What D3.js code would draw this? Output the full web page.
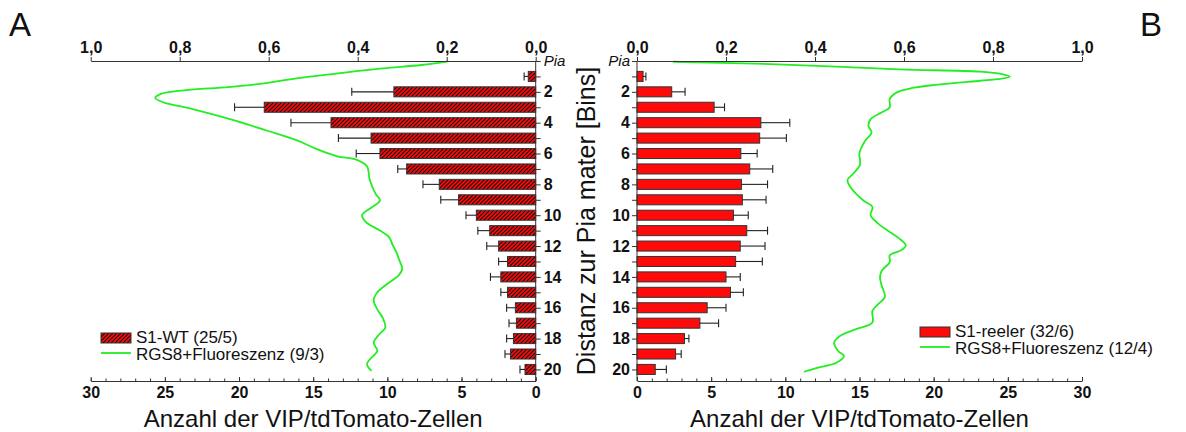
<!DOCTYPE html>
<html>
<head>
<meta charset="utf-8">
<script src="https://cdn.jsdelivr.net/npm/d3@7"></script>
<style>
  body { margin: 0; background: #fff; }
  svg { font-family: "Liberation Sans", Arial, sans-serif; }
</style>
</head>
<body>
<script>
// bins below the pia (1..20)
const bins = [1, 2, 3, 4, 5, 6, 7, 8, 9, 10, 11, 12, 13, 14, 15, 16, 17, 18, 19, 20];

// S1-WT (25/5): cell counts per bin and error
const wtMean = [0.5, 9.56, 18.3, 13.8, 11.1, 10.5, 8.7, 6.5, 5.2, 4.0, 3.1, 2.5, 1.9, 2.35, 1.9, 1.37, 1.3, 1.5, 1.7, 0.72];
const wtErr  = [0.28, 2.84, 2.0, 2.7, 2.2, 1.6, 0.6, 1.1, 1.2, 0.7, 0.8, 0.8, 0.6, 0.7, 0.45, 0.59, 0.5, 0.46, 0.37, 0.34];

// S1-reeler (32/6)
const rlMean = [0.41, 2.34, 5.2, 8.35, 8.27, 7.0, 7.6, 7.04, 7.1, 6.5, 7.4, 6.96, 6.65, 6.0, 6.3, 4.73, 4.24, 3.2, 2.6, 1.23];
const rlErr  = [0.19, 0.9, 0.7, 1.95, 1.8, 1.1, 1.55, 1.76, 1.6, 1.0, 1.4, 1.67, 1.8, 0.96, 0.87, 1.27, 1.26, 0.3, 0.38, 0.75];

// RGS8+ fluorescence profile, WT (9/3): depth in bins, relative intensity
const wtGreenDepth = [0.02, 0.26, 0.48, 0.75, 1.14, 1.45, 1.69, 1.9, 2.13, 2.4, 2.7, 3.1, 3.77, 4.54, 5.2, 5.75, 6.18, 6.4, 6.84, 7.7, 8.6, 9.03, 9.5, 10.0, 10.43, 10.98, 11.4, 11.96, 12.4, 12.8, 13.5, 13.9, 14.46, 15.0, 15.54, 16.1, 16.7, 17.3, 17.7, 18.26, 18.8, 19.35, 19.67, 20.1];
const wtGreenFrac  = [0.196, 0.257, 0.343, 0.429, 0.541, 0.61, 0.69, 0.79, 0.842, 0.855, 0.835, 0.773, 0.687, 0.601, 0.532, 0.489, 0.446, 0.403, 0.379, 0.373, 0.36, 0.35, 0.369, 0.39, 0.382, 0.351, 0.33, 0.321, 0.313, 0.308, 0.3, 0.308, 0.334, 0.356, 0.364, 0.356, 0.343, 0.338, 0.351, 0.364, 0.356, 0.373, 0.379, 0.369];

// RGS8+ fluorescence profile, reeler (12/4)
const rlGreenDepth = [0.05, 0.2, 0.54, 0.69, 0.85, 1.02, 1.18, 1.28, 1.56, 1.75, 2.02, 2.46, 3.0, 3.33, 3.77, 4.2, 4.65, 5.2, 5.96, 6.73, 7.28, 7.72, 8.27, 9.03, 9.47, 10.0, 10.54, 11.09, 11.5, 11.96, 12.28, 12.6, 13.04, 13.6, 14.0, 14.57, 15.3, 15.76, 16.2, 16.96, 17.4, 17.83, 18.26, 18.8, 19.13, 19.57, 19.9, 20.15];
const rlGreenFrac  = [0.081, 0.3, 0.59, 0.77, 0.82, 0.838, 0.81, 0.771, 0.665, 0.619, 0.585, 0.568, 0.568, 0.55, 0.525, 0.52, 0.527, 0.512, 0.5, 0.501, 0.487, 0.473, 0.482, 0.508, 0.529, 0.525, 0.542, 0.568, 0.589, 0.604, 0.593, 0.568, 0.568, 0.55, 0.546, 0.55, 0.557, 0.542, 0.529, 0.529, 0.491, 0.456, 0.443, 0.452, 0.465, 0.448, 0.405, 0.375];

const countTicks = [0, 5, 10, 15, 20, 25, 30];
const fracTicks = [0, 0.2, 0.4, 0.6, 0.8, 1.0];

const W = 1186, H = 432;
const yTop = 61, yBottom = 381;
const red = "#ff0a0a", green = "#22ee22", axisCol = "#333";
const font = "'Liberation Sans', Arial, sans-serif";

const svg = d3.select("body").append("svg")
  .attr("width", W)
  .attr("height", H);

const defs = svg.append("defs");
const hatch = defs.append("pattern")
  .attr("id", "hatch")
  .attr("patternUnits", "userSpaceOnUse")
  .attr("width", 4)
  .attr("height", 4);
hatch.append("rect").attr("width", 4).attr("height", 4).attr("fill", red);
hatch.append("path")
  .attr("d", "M-1,1 l2,-2 M0,4 l4,-4 M3,5 l2,-2")
  .attr("stroke", "#111")
  .attr("stroke-width", 1.1);

const y = d3.scaleLinear().domain([0, 20.75]).range([yTop, yBottom]);
const barH = 0.65;

const panels = [
  { side: "left", x0: 535.7, x1: 90.7, mean: wtMean, err: wtErr, fill: "url(#hatch)",
    gDepth: wtGreenDepth, gFrac: wtGreenFrac, letter: "A", letterX: 9,
    legend: { x: 101, y: 333, label: "S1-WT (25/5)", line: "RGS8+Fluoreszenz (9/3)" } },
  { side: "right", x0: 637, x1: 1082, mean: rlMean, err: rlErr, fill: red,
    gDepth: rlGreenDepth, gFrac: rlGreenFrac, letter: "B", letterX: 1140,
    legend: { x: 920, y: 327, label: "S1-reeler (32/6)", line: "RGS8+Fluoreszenz (12/4)" } }
];

const comma = d => d3.format(".1f")(d).replace(".", ",");

function styleTicks(sel) {
  sel.attr("font-family", font);
  sel.selectAll("text").attr("font-size", 16).attr("font-weight", "bold").attr("fill", "#111");
}

panels.forEach(p => {
  const xc = d3.scaleLinear().domain([0, 30]).range([p.x0, p.x1]);
  const xf = d3.scaleLinear().domain([0, 1]).range([p.x0, p.x1]);
  const g = svg.append("g");

  // bars
  g.selectAll("rect.bar")
    .data(bins)
    .join("rect")
    .attr("class", "bar")
    .attr("x", (d, i) => Math.min(xc(0), xc(p.mean[i])))
    .attr("width", (d, i) => Math.abs(xc(p.mean[i]) - xc(0)))
    .attr("y", d => y(d - barH / 2))
    .attr("height", d => y(barH) - y(0))
    .attr("fill", p.fill)
    .attr("stroke", "#333")
    .attr("stroke-width", 1);

  // error bars
  const eb = g.selectAll("g.err").data(bins).join("g").attr("class", "err");
  eb.append("line")
    .attr("x1", (d, i) => xc(p.mean[i]))
    .attr("x2", (d, i) => xc(p.mean[i] + p.err[i]))
    .attr("y1", d => y(d)).attr("y2", d => y(d))
    .attr("stroke", "#222").attr("stroke-width", 1.1);
  eb.append("line")
    .attr("x1", (d, i) => xc(p.mean[i] + p.err[i]))
    .attr("x2", (d, i) => xc(p.mean[i] + p.err[i]))
    .attr("y1", d => y(d) - 4).attr("y2", d => y(d) + 4)
    .attr("stroke", "#222").attr("stroke-width", 1.1);

  // fluorescence profile
  const pts = p.gDepth.map((d, i) => [xf(p.gFrac[i]), y(d)]);
  g.append("path")
    .attr("d", d3.line().curve(d3.curveCatmullRom.alpha(0.5))(pts))
    .attr("fill", "none")
    .attr("stroke", green)
    .attr("stroke-width", 1.8);

  // bottom axis (counts)
  g.append("g")
    .attr("transform", `translate(0,${yBottom})`)
    .call(d3.axisBottom(xc).tickValues(countTicks).tickSize(-4).tickSizeOuter(0).tickPadding(6))
    .call(styleTicks);
  g.append("g")
    .attr("transform", `translate(0,${yBottom})`)
    .call(d3.axisBottom(xc).tickValues(d3.range(31)).tickSize(-2.5).tickSizeOuter(0).tickFormat(""))
    .call(a => a.select(".domain").remove());

  // top axis (relative fluorescence)
  g.append("g")
    .attr("transform", `translate(0,${yTop})`)
    .call(d3.axisTop(xf).tickValues(fracTicks).tickFormat(comma).tickSize(4).tickSizeOuter(0).tickPadding(4))
    .call(styleTicks);

  // depth axis
  const yAxis = (p.side === "left" ? d3.axisRight(y) : d3.axisLeft(y))
    .tickValues([0].concat(bins))
    .tickSize(5)
    .tickSizeOuter(0)
    .tickPadding(p.side === "left" ? 3 : 2)
    .tickFormat(d => d === 0 ? "Pia" : (d % 2 === 0 ? d : ""));
  const yAx = g.append("g")
    .attr("transform", `translate(${p.x0},0)`)
    .call(yAxis)
    .call(styleTicks);
  yAx.select(".domain").attr("d", `M0,${yTop}V${yBottom}`);
  yAx.selectAll("text")
    .filter(d => d === 0)
    .attr("font-size", 15)
    .attr("font-weight", "normal")
    .attr("font-style", "italic");

  g.selectAll(".domain, .tick line").attr("stroke", axisCol);

  // x title
  g.append("text")
    .attr("x", (p.x0 + p.x1) / 2)
    .attr("y", 427)
    .attr("text-anchor", "middle")
    .attr("font-size", 24)
    .attr("fill", "#111")
    .text("Anzahl der VIP/tdTomato-Zellen");

  // panel letter
  svg.append("text")
    .attr("x", p.letterX)
    .attr("y", 36)
    .attr("font-size", 33)
    .attr("fill", "#111")
    .text(p.letter);

  // legend
  const L = p.legend;
  const lg = g.append("g").attr("transform", `translate(${L.x},${L.y})`);
  lg.append("rect").attr("width", 30).attr("height", 10)
    .attr("fill", p.fill).attr("stroke", "#333");
  lg.append("text").attr("x", 35).attr("y", 10).attr("font-size", 17).attr("fill", "#111").text(L.label);
  lg.append("line").attr("x1", 0).attr("x2", 30).attr("y1", 20).attr("y2", 20)
    .attr("stroke", green).attr("stroke-width", 1.8);
  lg.append("text").attr("x", 35).attr("y", 27).attr("font-size", 17).attr("fill", "#111").text(L.line);
});

// shared depth title
svg.append("text")
  .attr("transform", "translate(595,221) rotate(-90)")
  .attr("text-anchor", "middle")
  .attr("font-size", 25)
  .attr("fill", "#111")
  .text("Distanz zur Pia mater [Bins]");
</script>
</body>
</html>
